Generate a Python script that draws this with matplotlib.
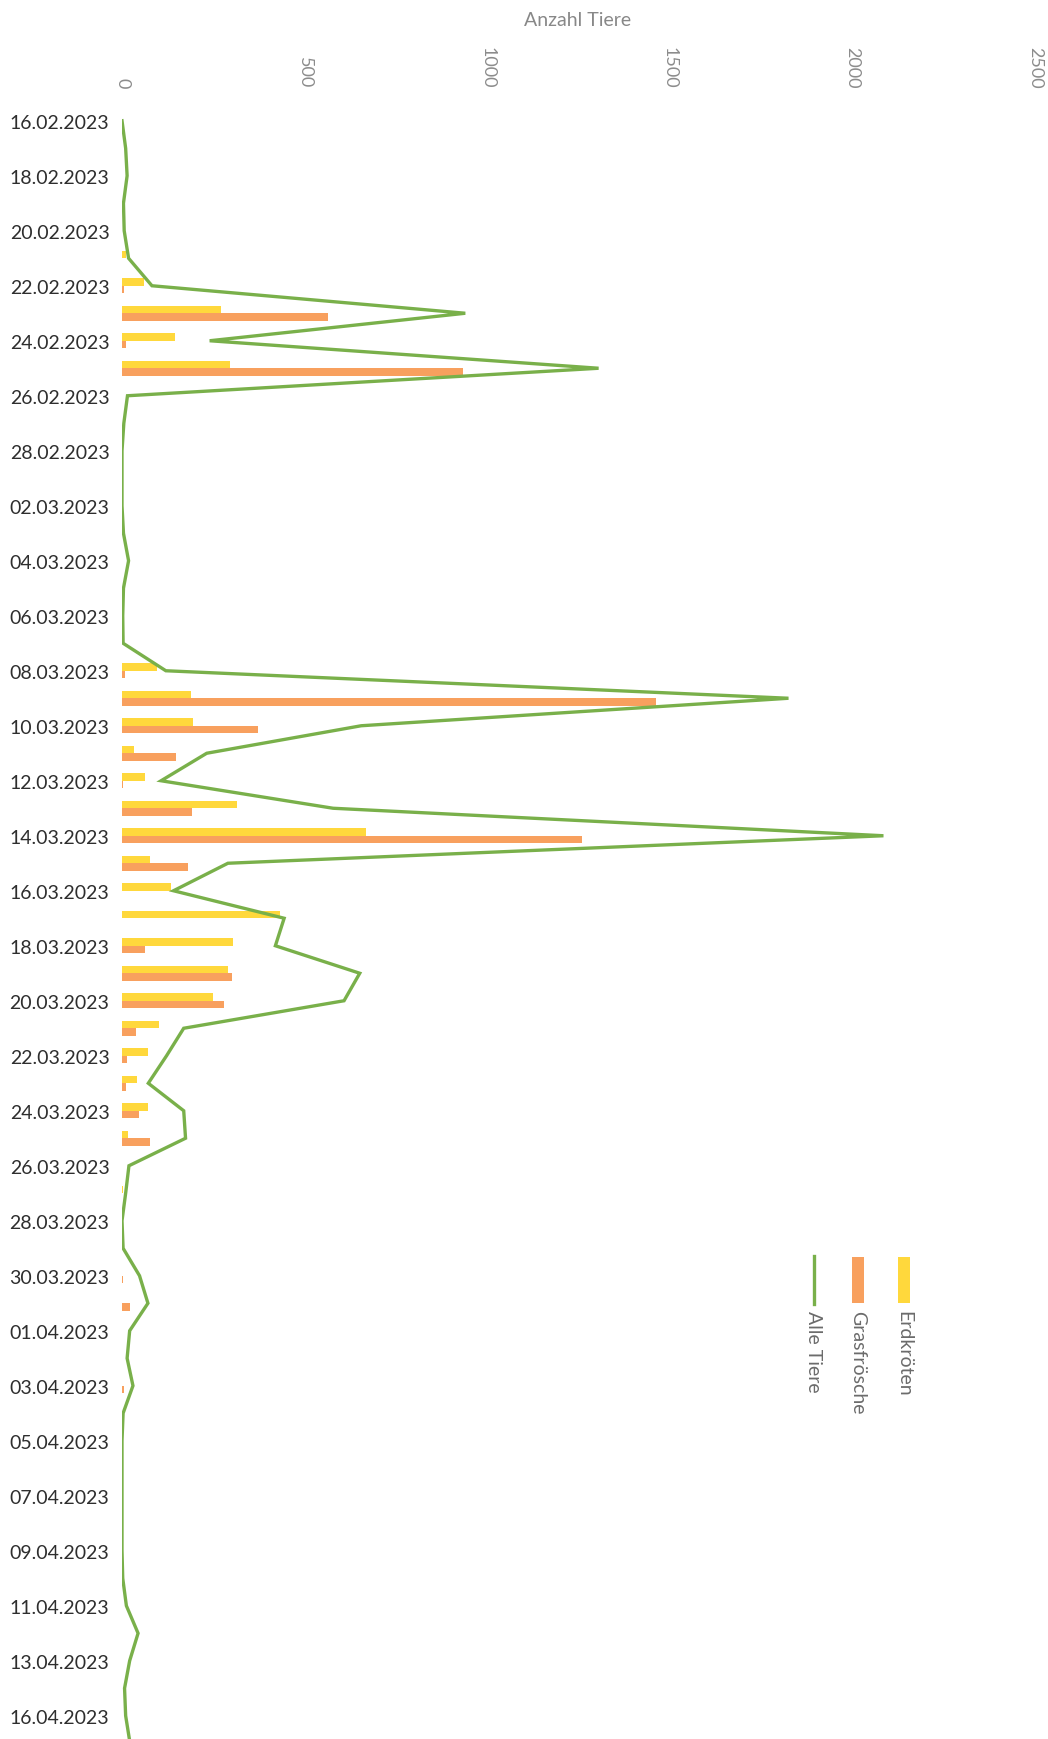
import matplotlib
matplotlib.use("Agg")
import matplotlib.pyplot as plt
import numpy as np
from matplotlib.patches import Rectangle
from matplotlib.lines import Line2D

plt.rcParams['font.family'] = ['Lato', 'DejaVu Sans']

dates = ["16.02.2023", "17.02.2023", "18.02.2023", "19.02.2023", "20.02.2023", "21.02.2023",
         "22.02.2023", "23.02.2023", "24.02.2023", "25.02.2023", "26.02.2023", "27.02.2023",
         "28.02.2023", "01.03.2023", "02.03.2023", "03.03.2023", "04.03.2023", "05.03.2023",
         "06.03.2023", "07.03.2023", "08.03.2023", "09.03.2023", "10.03.2023", "11.03.2023",
         "12.03.2023", "13.03.2023", "14.03.2023", "15.03.2023", "16.03.2023", "17.03.2023",
         "18.03.2023", "19.03.2023", "20.03.2023", "21.03.2023", "22.03.2023", "23.03.2023",
         "24.03.2023", "25.03.2023", "26.03.2023", "27.03.2023", "28.03.2023", "29.03.2023",
         "30.03.2023", "31.03.2023", "01.04.2023", "02.04.2023", "03.04.2023", "04.04.2023",
         "05.04.2023", "06.04.2023", "07.04.2023", "08.04.2023", "09.04.2023", "10.04.2023",
         "11.04.2023", "12.04.2023", "13.04.2023", "14.04.2023", "16.04.2023", "17.04.2023"]

erdkroeten = [0, 0, 0, 0, 0, 10, 60, 270, 145, 295, 0, 0,
              0, 0, 0, 0, 0, 0, 0, 0, 95, 188, 195, 34,
              63, 314, 668, 78, 135, 433, 304, 289, 248, 100, 72, 42,
              72, 16, 0, 3, 0, 0, 0, 0, 0, 0, 0, 0,
              0, 0, 0, 0, 0, 0, 0, 0, 0, 0, 0, 0]

grasfroesche = [0, 0, 0, 0, 0, 0, 5, 565, 10, 935, 0, 0,
                0, 0, 0, 0, 0, 0, 0, 0, 8, 1462, 372, 148,
                3, 193, 1260, 182, 0, 0, 63, 300, 279, 38, 15, 10,
                46, 76, 0, 0, 0, 0, 3, 21, 0, 0, 5, 0,
                0, 0, 0, 0, 0, 0, 0, 0, 0, 0, 0, 0]

alle_tiere = [0, 10, 14, 4, 6, 18, 82, 940, 240, 1305, 15, 5,
              0, 0, 0, 4, 18, 4, 2, 3, 120, 1825, 655, 232,
              107, 578, 2085, 290, 141, 444, 420, 651, 608, 169, 122, 72,
              169, 174, 19, 10, 0, 3, 48, 71, 21, 14, 30, 3,
              0, 0, 0, 0, 0, 2, 12, 44, 21, 7, 10, 22]

value_ticks = [0, 500, 1000, 1500, 2000, 2500]

yellow = "#FFD83C"
orange = "#F8A05E"
green = "#79B04A"

W, H = 1048, 1740
fig = plt.figure(figsize=(W / 100, H / 100), dpi=100)
left_px, right_px, top_px = 122, 1035, 108
ax = fig.add_axes([left_px / W, 0, (right_px - left_px) / W, (H - top_px) / H])

n = len(dates)
y = np.arange(n)
ax.barh(y - 0.135, erdkroeten, height=0.27, color=yellow, linewidth=0)
ax.barh(y + 0.135, grasfroesche, height=0.27, color=orange, linewidth=0)
ax.plot(alle_tiere, y, color=green, linewidth=2.4, solid_joinstyle='miter')

ax.set_xlim(0, 2500)
ax.set_ylim(-0.5 + (H - top_px) / 27.5, -0.5)

for s in ax.spines.values():
    s.set_visible(False)

ax.xaxis.tick_top()
ax.set_xticks(value_ticks)
ax.set_xticklabels([str(v) for v in value_ticks], rotation=-90, fontsize=13, color="#8c8c8c")
ax.tick_params(axis='x', length=0, pad=14)

ax.set_yticks(y[::2])
ax.set_yticklabels(dates[::2], fontsize=14, color="#2e2e2e")
ax.tick_params(axis='y', length=0, pad=9)

fig.text(578 / W, 1 - 20 / H, "Anzahl Tiere", ha='center', va='center', fontsize=14, color="#888888")

# legend (rotated, drawn manually)
def fx(px):
    return px / W

def fy(py):
    return 1 - py / H

leg_items = [("Erdkröten", 904, 'patch', yellow),
             ("Grasfrösche", 858, 'patch', orange),
             ("Alle Tiere", 814, 'line', green)]
for label, xc, kind, col in leg_items:
    if kind == 'patch':
        fig.add_artist(Rectangle((fx(xc - 6), fy(1304)), 12 / W, 46 / H,
                                 transform=fig.transFigure, color=col, linewidth=0))
    else:
        fig.add_artist(Line2D([fx(xc), fx(xc)], [fy(1257), fy(1305)],
                              transform=fig.transFigure, color=col, linewidth=2.4))
    fig.text(fx(xc), fy(1311), label, rotation=-90, ha='center', va='top',
             fontsize=14, color="#6b6b6b")

fig.savefig("out.png", dpi=100)
